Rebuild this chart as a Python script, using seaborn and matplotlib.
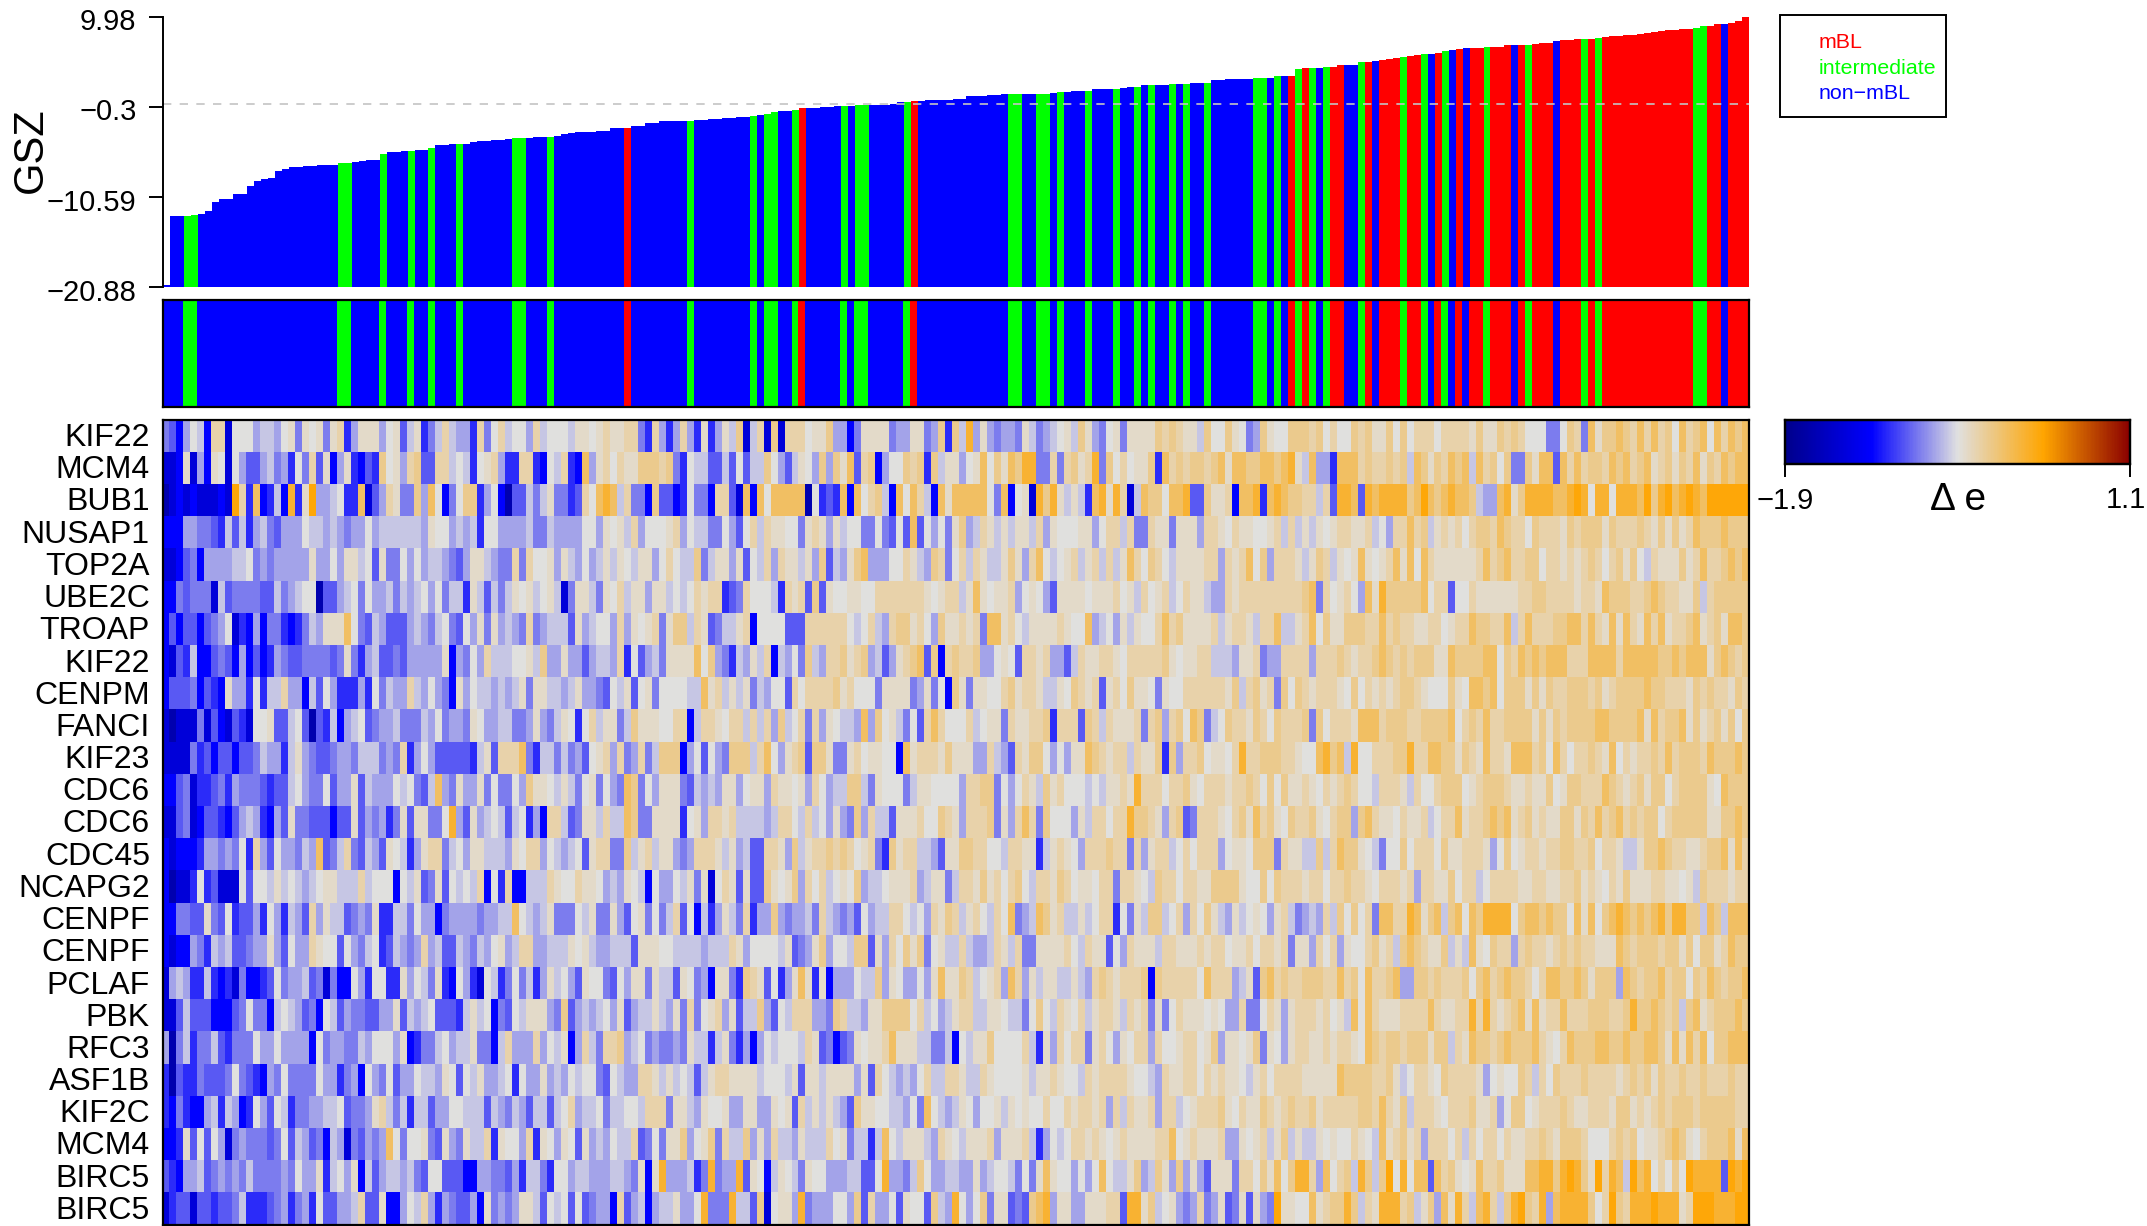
import numpy as np
import matplotlib
matplotlib.use('Agg')
import matplotlib.pyplot as plt
from matplotlib.colors import LinearSegmentedColormap, ListedColormap
from matplotlib.patches import Rectangle
from matplotlib.transforms import ScaledTranslation
import seaborn as sns

W, H = 2147, 1226
N_COL = 227

genes = ['KIF22', 'MCM4', 'BUB1', 'NUSAP1', 'TOP2A', 'UBE2C', 'TROAP', 'KIF22', 'CENPM', 'FANCI',
         'KIF23', 'CDC6', 'CDC6', 'CDC45', 'NCAPG2', 'CENPF', 'CENPF', 'PCLAF', 'PBK', 'RFC3',
         'ASF1B', 'KIF2C', 'MCM4', 'BIRC5', 'BIRC5']

gsz_ticks = [9.98, -0.3, -10.59, -20.88]

gsz = [-20.6, -12.72, -12.72, -12.72, -12.6, -12.5, -12.15, -11.1, -10.8, -10.8,
       -10.2, -10.2, -9.3, -8.8, -8.5, -8.36, -7.64, -7.37, -7.2, -7.2,
       -7.1, -7.0, -6.9, -6.9, -6.9, -6.7, -6.7, -6.6, -6.5, -6.35,
       -6.35, -5.66, -5.5, -5.4, -5.3, -5.3, -5.2, -5.2, -5.0, -4.64,
       -4.6, -4.5, -4.5, -4.5, -4.3, -4.2, -4.2, -4.1, -4.07, -3.95,
       -3.88, -3.88, -3.88, -3.73, -3.73, -3.73, -3.6, -3.4, -3.27, -3.2,
       -3.16, -3.16, -3.04, -3.04, -2.7, -2.7, -2.7, -2.5, -2.47, -2.17,
       -2.1, -1.9, -1.9, -1.9, -1.9, -1.9, -1.8, -1.8, -1.7, -1.7,
       -1.57, -1.57, -1.46, -1.46, -1.34, -1.23, -1.1, -0.89, -0.77, -0.77,
       -0.66, -0.43, -0.43, -0.43, -0.32, -0.32, -0.2, -0.2, -0.2, -0.09,
       -0.09, -0.09, -0.09, -0.09, 0.02, 0.25, 0.25, 0.37, 0.37, 0.48,
       0.48, 0.48, 0.48, 0.6, 0.6, 0.94, 0.94, 0.94, 1.05, 1.05,
       1.17, 1.17, 1.17, 1.17, 1.17, 1.17, 1.17, 1.28, 1.39, 1.39,
       1.51, 1.51, 1.51, 1.74, 1.74, 1.74, 1.74, 1.85, 1.96, 1.96,
       2.19, 2.19, 2.19, 2.19, 2.3, 2.3, 2.3, 2.42, 2.42, 2.42,
       2.76, 2.76, 2.88, 2.88, 2.88, 2.88, 2.99, 2.99, 2.99, 3.22,
       3.22, 3.22, 4.0, 4.13, 4.13, 4.13, 4.24, 4.24, 4.47, 4.47,
       4.47, 4.81, 4.81, 4.93, 5.04, 5.16, 5.27, 5.38, 5.5, 5.61,
       5.73, 5.73, 5.84, 6.07, 6.18, 6.3, 6.41, 6.41, 6.41, 6.52,
       6.52, 6.52, 6.75, 6.75, 6.75, 6.75, 6.87, 6.98, 6.98, 7.21,
       7.32, 7.32, 7.44, 7.44, 7.44, 7.55, 7.66, 7.78, 7.78, 7.89,
       7.89, 8.01, 8.12, 8.23, 8.35, 8.46, 8.46, 8.58, 8.58, 8.69,
       8.92, 8.92, 9.15, 9.15, 9.26, 9.49, 9.95]

# sample class, everything not listed is non-mBL
intermediate_idx = [3, 4, 25, 26, 31, 35, 38, 42, 50, 51, 55, 75, 84, 86, 87, 90, 97, 99, 100, 106,
                    121, 122, 125, 126, 128, 132, 136, 139, 141, 144, 146, 149, 156, 157, 159, 162,
                    164, 166, 171, 177, 180, 183, 189, 195, 203, 205, 219, 220]
mbl_idx = [66, 91, 107, 161, 163, 167, 168, 172, 174, 175, 176, 178, 179, 182, 185, 187, 188, 190,
           191, 192, 194, 196, 197, 198, 200, 201, 202, 204, 206, 207, 208, 209, 210, 211, 212, 213,
           214, 215, 216, 217, 218, 221, 222, 224, 225, 226]

# delta e for each shade seen in the heatmap
shade_values = {'n': -1.66, '0': -1.39, '1': -1.15, '2': -1.0, '3': -0.85, '4': -0.73, '5': -0.61,
                '6': -0.49, '7': -0.4, '8': -0.32, '9': -0.22, 'a': -0.12, 'b': 0.02, 'c': 0.18, 'd': 0.32}

# one row per gene, read column by column: four stretches of 58, 60, 60, 49 samples
row_00 = ['4315761990777566578487848925888578368246965529479677596777',
          '688789889942952595282586a0690a0999788a551488884558845a2a6c586899',
          '5455486456786a8547848888a9a9886a77a8745a877aaa9a7977a9a88a7a',
          '7999799998a88a9a9777447a94b8aaba9b9b9a7b9ab7b9bab']
row_01 = ['0018051870753356452749381582132a785 9a33996762789 52299217690',
          '21b5897988aaa9a4276633637366a7536875a5a8b39a1577a9a2a688578b9a9a',
          '7a8bacc44949a89c4a79788a2b9a9aa9ab8bbaabbabc86b5 52bbb9a99a9aa',
          '6ba8a9ba b6b9a7a44a8bb3b9b9aa9bab9ab89a8a9b8a9babbb']
row_02 = ['n010100010d92b1261c28d556 7 2 2 b 0 3 5 9 8 4 4 a 5 b 7 1 4 7 a a 2 5 7 1 n 3 3 6 4 6 8 4 4',
          '2397 bcb6 9 4 4 1 a 3 3 1 2 7 4 4 1 9 9 3 0 b 1 b 7 b b b b b n 7 2 3 2 b 1 b 7 9 a 6 1 b 7 b 9 6 1 b 8 b',
          '7 4 b 1 7 8 0 c a c 8 6 8 6 2 b c 8 c 9 0 6 b a a 7 b b c 3 3 a 8 8 9 1 b b c 2 b c b a a 9 9 6 9 3 c c b 3 c b c',
          'a b d b a b c b b a 6 5 5 b c 8 a c c c c b b c d c 7 c c 7 c c c b d a c d b c d c b d d d d d']
row_03 = ['11155443263 6 2 5 6 4 3 5 5 5 7 6 6 5 6 5 4 5 5 7 5 6 6 6 6 6 6 5 8 7 7 5 6 5 6 2 7 7 5 5 5 5 6 4 4 6 5 5 7 6 5',
          '557758786 9 5 7 7 7 8 9 5 7 6 6 4 4 7 5 3 7 9 6 9 8 8 7 7 4 8 9 8 5 8 6 7 7 4 4 7 4 3 7 3 b 3 7 5 7 4 8 a 5 6 9 9 9 8 7 6 8 6 6',
          '8 6 8 6 8 8 6 9 5 8 7 7 7 8 8 5 7 9 9 6 9 4 4 9 8 8 4 8 8 8 5 9 9 8 7 9 8 8 7 7 8 9 6 9 6 8 6 8 7 8 9 9 8 8 9 6 7 5 9 9',
          'b9 a 6 8 9 8 9 7 9 a a 9 b a 9 9 7 a 9 9 9 8 a 9 a a a 8 a 9 9 9 a 9 8 a 8 a 8 9 b a a a b a a a']
row_04 = ['00134 1 5 5 5 5 6 6 7 4 5 4 5 5 5 5 5 8 5 5 7 5 8 8 6 7 3 8 4 4 7 5 7 5 6 6 5 4 3 5 8 8 6 5 4 4 9 4 9 7 7 8 5 8 4 4 6 3',
          '6 5 7 5 6 8 6 8 7 6 8 8 5 7 9 7 6 6 a 4 6 8 8 5 8 3 7 6 9 5 9 8 8 6 8 5 a 3 6 5 8 a b 5 5 5 7 7 9 8 6 5 a 9 4 7 9 6 9 8',
          '6 6 8 a 8 5 9 b 7 6 7 8 9 6 8 9 6 9 6 8 b 9 7 a 9 7 6 8 8 8 8 9 9 5 9 8 9 b 7 a 5 9 9 9 8 6 8 a 9 6 8 7 8 b 8 7 8 9 b 8',
          'b 7 b 9 8 8 8 8 8 8 9 b 9 a b 9 9 a a 7 9 9 8 9 8 9 a 9 7 9 a 8 a 7 6 9 8 8 8 a 8 9 b 9 9 a b a b']
row_05 = ['11434440 6 3 4 4 4 4 3 3 6 4 5 6 7 7 n 3 3 5 6 7 4 7 5 5 6 4 6 5 6 7 5 7 4 6 6 2 8 6 3 6 4 6 8 7 8 6 7 8 6 0 5 4 8',
          '4 8 8 6 4 8 7 9 6 8 8 5 8 8 6 7 6 7 9 8 9 9 2 3 4 9 7 7 7 6 2 9 8 9 3 a 3 8 7 7 8 8 7 7 9 9 9 9 9 9 9 8 7 8 9 9 6 8 b 8',
          '7 8 8 9 5 7 8 7 5 3 8 8 8 8 7 8 8 8 9 7 8 6 9 7 8 9 6 7 9 8 8 6 5 5 9 8 9 9 9 9 9 9 9 9 9 a b 4 9 7 8 9 7 5 b 8 c a a a',
          'a a b 7 9 9 3 7 7 9 8 8 8 8 8 8 9 9 a a 9 9 9 9 8 9 9 8 b a a a 9 9 a b a 9 9 8 8 a 6 9 a a a a a']
row_06 = ['13 1 3 3 1 3 4 5 7 0 2 1 5 1 4 4 2 1 2 4 6 5 8 8 8 b 7 4 3 6 5 3 3 3 5 6 5 4 6 7 4 3 7 5 8 4 8 5 6 5 4 9 4 5 6 6',
          '3 8 5 6 7 7 5 9 5 8 7 8 9 4 8 a a 6 9 8 3 4 6 6 8 9 1 7 7 7 7 3 3 3 9 9 9 9 9 9 7 6 7 9 6 5 9 a a 8 9 7 5 a 8 8 9 8 9 4',
          'b b 8 9 7 6 8 8 8 8 9 8 7 7 b 5 6 7 5 8 6 8 7 7 9 b 9 a 8 8 8 8 9 6 8 9 9 8 6 9 9 b 6 6 8 9 b 7 a 8 8 a a a 9 9 b 9 a 9',
          '9 8 8 9 9 7 8 9 9 b a a 9 9 b 6 9 b 9 9 9 a a b b 9 b 9 8 b 8 b 9 8 b 9 b 8 9 9 a b 8 9 a 8 b b a']
row_07 = ['1 0 3 2 6 1 1 3 4 3 1 5 1 3 1 2 5 4 3 3 4 4 4 4 3 4 8 4 2 5 6 3 3 4 3 5 5 5 5 5 8 1 5 4 7 5 9 6 6 6 7 7 8 6 a 5 5 8',
          '5 5 3 5 6 6 5 9 2 7 3 5 6 4 8 8 8 8 b 7 a 5 4 2 6 5 8 6 9 1 6 5 7 4 a 6 5 9 9 a 8 9 a 5 6 3 5 8 9 a b 3 a 1 9 a 9 9 a 5',
          '5 7 8 7 3 9 9 8 9 5 5 3 6 9 8 8 9 9 8 7 9 9 9 9 9 a 8 7 8 8 9 9 6 6 6 5 8 8 9 4 5 5 9 9 9 9 5 9 9 9 a 9 8 9 9 a b a 9 a',
          '9 a a a 8 8 b a a a a b b 7 a 9 b a b a b b b 9 9 9 b b b b 9 b b b b b a a b a b b b 8 a b a 9 a']
row_08 = ['1 3 3 3 4 1 3 2 1 8 5 5 2 7 2 6 6 9 5 5 1 6 3 7 5 2 2 2 5 2 7 4 6 5 5 9 6 5 7 5 4 1 8 5 7 6 6 5 6 5 6 8 4 8 8 6 6 5',
          '6 8 5 5 4 3 7 6 8 3 7 8 4 7 7 7 7 6 6 b 8 9 6 8 6 8 4 6 5 7 7 3 9 7 9 9 9 9 a 8 9 7 7 7 4 8 8 8 8 4 5 8 4 7 1 a 8 4 8 8',
          '7 7 9 a 8 9 9 8 6 6 8 7 a 9 8 9 3 8 9 7 a 8 8 7 4 8 7 7 9 9 9 9 9 9 8 a 6 9 a 8 9 4 a 7 a 9 8 9 9 9 8 7 a 7 9 8 9 8 9 a',
          'a 9 8 7 7 7 a 8 7 b b a b 7 a a a 8 a 8 a 9 9 a a a 9 a 8 9 a a a a b a a 9 9 9 8 a 9 a 9 9 8 a 9']
row_09 = ['0 n 0 0 0 4 0 3 1 0 3 2 0 7 7 8 3 3 6 7 3 n 3 2 6 1 5 6 7 3 4 5 5 6 4 4 4 6 5 7 4 5 5 4 8 7 5 5 6 6 4 4 5 8 5 4 6 8',
          '7 2 7 9 6 8 8 4 6 a 8 8 8 7 7 9 9 1 6 9 9 8 7 9 9 6 9 6 9 5 a 6 7 9 4 9 5 8 7 6 6 5 b 5 a 7 8 6 4 7 3 9 b 9 7 7 7 9 6 7',
          '8 8 4 9 8 8 9 9 a 2 9 9 9 3 a 9 6 9 8 8 8 9 4 9 a 5 9 a 7 b a 4 6 7 a 9 9 8 a 9 7 a 9 9 9 a 4 a 7 9 9 9 8 b b b 9 a a a',
          '9 9 a a a a b 7 9 a 9 b 9 9 a a a a 8 a 8 a 9 a a a a b b a a a a b 8 b 9 a a b 8 a 8 9 a 8 a 7 a']
row_10 = ['0 0 0 0 4 2 3 1 3 3 1 3 3 4 6 5 5 2 6 8 5 4 3 3 4 5 5 4 6 6 6 4 5 4 9 2 5 7 5 3 3 3 3 3 2 6 8 3 9 9 9 b 4 2 6 6 4 6',
          '4 5 3 7 8 9 5 9 4 5 9 4 6 a a a 1 5 7 3 7 5 4 a a a 6 9 b 7 5 8 9 a 3 a a 8 4 4 8 9 7 8 8 7 7 1 b 8 9 9 9 8 a 8 8 8 5 5',
          '9 6 5 3 9 8 a a 7 5 7 5 8 8 b a 9 8 9 9 6 9 8 8 a 2 a 5 9 9 a 7 8 8 7 9 c 9 9 a a a 9 9 8 7 7 b c a b 6 c 7 7 9 9 9 a a',
          'c 9 9 b b a a 8 a 9 8 b 9 9 8 b b b 9 a 7 b 9 7 9 9 a 9 8 b 7 9 8 9 9 a 9 b 9 a a a 9 b a a a b a']
row_11 = ['1 1 3 4 0 2 2 3 4 2 5 4 4 4 3 2 3 3 6 7 5 4 4 7 3 5 5 8 3 6 5 5 5 7 6 7 4 3 6 b 5 4 8 5 5 8 4 7 4 4 7 5 a 8 8 7 6 8',
          '6 4 7 8 4 7 5 4 b a 4 7 5 8 8 8 4 3 6 5 6 5 8 8 5 7 8 8 5 9 8 8 7 8 5 9 7 5 6 6 a a 6 4 8 7 7 7 4 6 8 8 7 7 7 7 5 9 9 a',
          'a 4 7 5 7 9 8 6 a 8 9 7 7 7 6 7 6 8 8 9 8 c 9 9 9 7 9 9 a 8 7 9 9 9 8 9 9 a 9 7 a 7 a 8 8 9 8 7 9 8 9 a 9 7 7 6 9 9 9 8',
          '6 9 7 7 9 a a a 7 8 9 a a a 9 8 8 9 8 8 a 7 8 a a 9 9 9 b a 9 8 9 a 8 a a 7 9 a a a a 8 7 b a a a']
row_12 = ['0 0 3 4 0 1 3 3 2 1 3 5 6 5 2 1 5 3 8 4 4 3 3 3 1 3 3 8 3 5 4 5 2 4 8 3 8 8 4 4 7 c 5 3 8 5 6 7 6 3 6 7 2 5 1 9 9 6',
          '3 4 8 8 6 9 6 6 b a 4 4 8 8 8 8 2 7 8 5 9 9 8 9 6 6 6 6 5 6 9 9 7 6 9 6 7 5 8 5 4 a 5 9 6 6 3 8 8 8 9 7 7 a 9 8 5 9 9 9',
          'a 4 8 5 9 b 9 4 a 7 7 7 5 8 6 9 9 7 9 9 c a a 9 8 5 9 a 3 4 9 9 9 8 7 9 a 8 b 9 a 8 7 a 9 9 a 8 7 9 a a 5 a b 9 8 8 7 9',
          '8 8 9 6 7 9 9 b 8 9 9 a b a b 8 9 a 8 9 8 8 a a 8 a 9 b 9 a b 9 a 9 a a 7 9 a a a a a 8 8 a a b a']
row_13 = ['1 0 1 1 1 2 5 5 4 5 4 7 2 9 5 3 7 5 5 4 6 5 b 3 4 6 9 4 3 6 5 3 8 7 6 2 5 8 9 9 4 6 7 5 8 8 6 6 6 5 8 7 9 9 5 7 6 5',
          '6 7 3 8 9 9 4 4 a 6 8 9 6 8 8 5 4 5 9 9 9 8 6 8 5 6 3 3 9 9 8 5 a 6 8 9 9 a 9 a 9 7 8 9 4 2 a 8 9 9 6 6 5 3 8 8 a a 9 9',
          '7 7 6 9 9 8 8 2 6 8 9 8 7 5 9 9 9 a 9 9 4 9 5 8 9 9 6 7 9 7 9 9 9 5 7 8 8 7 a a a 4 9 8 8 6 6 a 6 9 b a a 8 7 6 4 7 7 a',
          '7 9 9 9 7 a 8 8 9 9 9 8 5 7 a 7 8 9 9 8 9 9 a a 9 9 a 7 9 9 8 6 6 8 a a b a 9 9 8 8 9 a a b 8 b 9']
row_14 = ['1 n 0 0 2 7 2 3 0 0 0 7 3 7 7 6 8 6 7 6 5 6 7 8 8 6 6 6 9 6 7 7 7 1 7 6 8 3 4 8 3 7 6 7 6 9 1 7 2 9 1 1 6 6 6 9 8 7',
          '7 9 8 8 7 5 6 5 8 7 6 1 7 5 5 7 6 8 4 8 0 7 9 8 3 8 3 3 a 8 7 8 a 5 9 7 9 6 7 8 7 a 5 6 6 7 8 8 8 9 5 6 8 8 4 6 9 9 8 a',
          '8 9 7 9 a 7 6 9 9 8 a 9 7 8 8 7 9 9 4 9 9 8 7 6 a 9 9 7 9 9 8 8 a a a a 8 7 7 a 7 a 9 9 9 8 9 9 7 9 9 a 9 9 8 7 9 9 9 8',
          '9 5 9 9 8 8 a 7 9 9 6 7 9 9 9 9 8 8 9 9 8 8 9 9 a 8 9 8 7 9 8 a 8 8 8 9 9 8 8 7 8 6 a 9 9 9 8 9 9']
row_15 = ['1 1 4 4 3 3 8 4 3 7 2 3 3 5 2 7 5 2 6 5 3 9 5 8 6 6 3 4 5 4 8 2 2 6 6 4 7 5 5 1 4 5 5 5 5 4 5 5 6 6 b 7 6 5 6 8 4 4',
          '4 7 6 8 4 4 8 5 3 7 8 4 7 4 6 9 3 7 1 6 2 5 8 6 4 9 2 5 5 a 5 4 5 5 6 4 9 6 5 4 5 3 7 5 6 6 9 9 7 6 7 5 9 8 a 9 6 8 9 7',
          '6 9 7 b 4 5 6 b a 8 9 6 6 8 6 7 9 9 2 7 4 8 6 a a 6 7 9 5 9 7 a 8 6 5 8 6 7 8 7 5 8 9 6 4 5 6 5 9 6 a 7 a 7 9 4 b b 9 9',
          'c b 8 a b 6 a b 7 b a c c c c 7 a b b a b a a 7 b 8 b 7 a b c b a b a b c a c c a a 6 b a 6 b b b']
row_16 = ['1 0 1 1 5 4 2 6 5 6 3 3 4 5 5 8 5 3 7 5 5 9 8 7 7 3 7 5 4 6 7 2 3 6 5 4 5 9 5 6 3 3 6 5 4 6 5 7 8 5 6 9 9 5 5 6 6 6',
          '8 7 8 6 5 5 6 6 6 3 8 8 8 7 7 6 6 6 6 5 6 6 6 9 8 5 7 7 7 7 6 8 3 4 5 8 a 5 7 7 6 a a 3 8 5 9 7 a 8 a 4 7 8 6 6 9 6 5 5',
          '6 9 8 6 9 4 4 8 8 8 8 9 7 6 9 8 8 3 7 5 9 8 8 8 6 9 9 8 8 8 9 8 9 9 7 8 8 9 7 9 9 8 9 4 8 8 5 9 7 9 5 8 7 7 9 a 8 9 6 a',
          'b a 9 8 8 a 6 8 6 b 8 7 a 9 9 5 9 a 9 9 8 9 a 9 a 9 9 8 8 8 b a 9 a a a 9 a a 8 a 7 a a 8 9 b a a']
row_17 = ['0 5 6 5 2 2 6 2 1 2 0 4 1 1 2 3 7 4 5 5 6 3 4 0 4 1 1 7 5 2 7 7 2 2 8 5 7 6 4 8 2 1 7 5 2 0 7 6 2 4 7 4 6 2 5 8 6 7',
          '5 3 8 7 7 4 3 7 5 8 8 4 8 6 6 3 8 7 4 5 1 8 8 4 2 a 9 8 3 7 2 5 8 b 8 2 8 1 5 5 5 7 6 6 a 5 8 7 5 5 7 5 8 b 8 8 a 9 6 7',
          '8 9 5 b 9 5 8 6 8 8 6 6 8 6 5 9 a 9 8 9 9 9 a 1 a 9 9 9 9 9 7 b 9 9 9 5 6 8 3 a b 9 a 9 9 a a a 9 9 b 9 a 7 b 9 9 a b 5',
          '5 a a 9 a 9 9 9 a 7 a b 9 a b a a 9 7 9 b b a a b a 8 a a a 5 b a 9 a a b 9 a a 7 a 9 b a 9 a a b']
row_18 = ['0 0 3 6 3 3 3 1 1 1 3 4 7 4 4 1 6 7 6 5 3 4 1 7 6 3 5 4 4 3 3 5 5 8 3 6 5 6 7 3 3 3 2 6 8 6 7 1 4 3 7 6 8 8 8 5 4 a',
          '3 5 6 5 6 7 5 8 3 5 6 6 8 6 5 8 4 9 4 7 8 9 5 8 3 6 6 a 5 3 7 6 9 9 9 5 5 4 a 9 6 6 5 8 8 a a a a 7 9 6 7 5 6 8 9 9 6 6',
          '8 8 7 6 6 4 7 a 7 6 9 8 7 9 6 8 9 9 8 6 9 8 9 4 8 4 7 9 8 8 8 7 8 7 5 5 9 4 4 7 9 8 5 8 9 9 9 8 9 7 8 6 b 7 b 9 8 8 8 9',
          '9 9 9 b 9 8 8 9 9 c 9 c 9 8 9 a b 8 b 8 9 9 b 9 9 9 a a a 9 9 a c a a b a 9 a 6 a b 8 9 a a a b a']
row_19 = ['5 n 4 6 2 4 4 6 3 2 4 4 4 7 5 5 7 5 5 5 5 1 7 4 5 5 4 4 6 5 7 7 7 5 8 1 2 4 4 6 7 5 6 6 8 4 4 1 6 9 5 5 5 9 5 7 6 8',
          '1 5 9 6 4 9 9 a 5 6 7 4 5 4 4 5 4 8 6 6 2 6 8 4 2 5 1 5 7 6 7 7 7 6 9 8 3 4 1 3 4 8 7 8 8 9 b 8 8 8 6 6 4 4 6 1 7 6 8 8',
          'a 7 7 7 7 9 6 2 8 5 9 7 9 9 4 8 9 7 5 8 7 9 9 5 9 7 7 8 9 9 7 8 a 5 8 8 7 8 a 4 8 7 5 8 9 9 8 8 9 8 9 9 8 7 b a 9 a a 9',
          'a a a 8 a a 6 9 8 b a a 9 a b a a a b 9 8 7 9 b a a a b b a a b a a b b a 8 b 8 b 9 b 7 a a b b b']
row_20 = ['2 n 3 2 2 4 3 3 3 4 7 4 3 2 1 5 4 7 4 4 4 4 7 5 5 2 4 5 1 7 5 4 7 3 5 5 7 6 6 5 8 7 3 7 6 8 5 5 6 7 2 7 5 5 8 5 6 5',
          '7 6 7 7 4 3 7 6 5 5 9 9 8 6 8 6 7 6 3 6 8 9 9 8 8 8 8 6 7 7 7 6 8 3 8 8 6 8 8 8 8 5 8 3 9 7 6 5 6 5 7 9 6 6 9 9 8 6 6 9',
          '8 7 7 7 7 8 6 8 8 9 8 7 7 6 9 8 9 9 9 9 8 7 7 6 5 9 8 8 9 9 7 9 8 9 8 8 7 6 8 9 7 9 9 9 9 8 8 8 8 8 b a a a a 9 9 a 8 6',
          '7 9 9 8 7 a 9 9 9 9 8 5 7 8 7 7 a 9 6 9 7 a 9 9 9 a 9 9 9 9 8 9 a 9 a 8 a 9 9 a 9 9 a 9 9 9 a 9 9']
row_21 = ['2 1 4 2 1 1 5 6 2 6 5 1 2 7 5 3 7 6 2 4 4 5 5 6 6 7 3 4 4 5 8 9 6 4 6 2 6 6 3 5 5 7 7 6 6 6 3 6 5 4 6 5 3 6 6 3 6 7',
          '9 5 6 6 7 4 6 6 7 7 6 9 9 9 4 8 8 6 5 8 7 7 8 5 5 8 8 5 5 8 7 8 3 9 6 8 6 8 6 5 3 a 8 8 7 7 6 6 5 7 4 b 7 6 5 6 8 7 5 7',
          '7 8 6 8 7 8 7 7 9 7 7 9 8 9 9 8 9 5 9 6 9 8 8 9 5 9 9 6 7 8 9 9 9 a 8 7 9 8 8 a 9 8 9 a 9 9 a 8 9 9 9 9 9 a a 9 b 9 8 a',
          '6 9 9 9 8 7 9 9 9 a 8 8 9 5 7 a a 7 8 9 9 9 a 9 8 8 9 9 9 8 a a 8 9 8 9 a 9 a a a 9 a a a a a 9 9']
row_22 = ['1 1 2 8 3 7 3 7 5 0 4 5 4 4 4 3 4 7 3 6 5 3 4 1 6 5 0 4 3 5 4 5 b 7 4 7 7 8 4 3 8 5 4 8 6 6 9 2 8 7 7 5 9 2 8 7 5 8',
          '7 3 8 5 6 5 7 6 6 9 3 4 7 4 8 8 a 5 7 8 a 4 9 6 6 a 5 8 5 9 6 6 5 8 6 6 6 9 7 8 4 6 6 2 6 b 7 6 8 8 8 6 5 9 8 7 6 8 8 8',
          '9 5 8 8 8 9 6 2 5 7 6 7 9 9 8 9 8 7 8 9 8 8 8 8 9 9 b 7 8 9 8 8 8 9 5 5 8 7 8 9 6 8 a 6 8 6 6 8 7 8 7 7 9 8 7 6 b 8 9 a',
          '8 9 5 9 9 9 7 9 6 9 7 9 9 7 9 8 8 9 9 a 9 8 a a a 9 7 7 7 9 a 9 a 7 8 8 9 a b a 8 7 9 a a a b 8 b']
row_23 = ['3 2 1 5 5 6 3 4 5 4 5 4 6 4 4 4 4 5 4 7 5 5 8 2 6 7 5 8 1 6 3 5 6 6 5 6 4 3 7 7 3 3 3 1 1 5 5 4 4 3 5 2 6 6 4 2 7 7',
          '5 6 6 5 5 5 6 6 5 4 8 1 8 c 5 5 5 6 2 4 c 4 5 5 c 3 8 7 1 6 8 7 6 4 8 7 7 5 5 5 6 6 3 3 7 c 5 5 4 6 a 7 5 5 6 6 5 5 8 5',
          '6 7 7 6 4 7 4 8 b 8 7 7 5 7 5 7 b 7 6 6 8 a 5 6 a 8 5 a 5 8 5 3 8 8 8 4 9 9 7 a 8 b 7 a c c 9 5 b 7 9 a 6 c a 6 a d 7 c',
          '7 b b 3 b 9 a 8 7 8 b 9 9 a 8 8 8 b b c c a c d c a 8 d 9 c b 6 d b c 7 9 7 a 7 d c c c c 3 d c d']
row_24 = ['0 2 3 3 0 3 3 2 3 3 4 6 2 2 2 3 4 5 2 4 5 2 7 3 3 5 5 6 9 3 3 8 1 1 5 7 6 9 5 2 5 4 3 3 5 1 8 4 5 4 5 8 8 6 3 7 6 7',
          '3 7 3 4 5 5 1 9 3 5 6 1 5 6 6 8 5 5 7 c 4 4 4 c 6 6 3 a 0 7 8 8 5 c 4 5 5 5 7 7 5 a 3 9 5 5 7 3 8 7 7 3 a 6 5 c 7 5 7 a',
          '4 8 8 3 4 3 a b c 5 8 8 5 5 8 8 8 9 9 3 c c 8 a 6 7 8 5 4 5 9 4 5 8 3 4 8 3 8 5 4 d 8 8 7 7 b 8 9 a a c a 6 9 8 c c c 9',
          'a 6 8 a 5 b 8 c 9 6 b c 9 6 a c d a 9 c 5 b c c c c a 7 9 d a 9 c c c d c c c 8 9 d d d c c c d d']

rows = [row_00, row_01, row_02, row_03, row_04, row_05, row_06, row_07, row_08, row_09, row_10, row_11, row_12,
        row_13, row_14, row_15, row_16, row_17, row_18, row_19, row_20, row_21, row_22, row_23, row_24]
stretch = [58, 60, 60, 49]


def fit(s, n):
    # keep each stretch under its own zoom window when my count is off by a cell or two
    s = s.replace(' ', '')
    return (s + s[-1] * n)[:n]


delta_e = np.array([[shade_values[c] for c in ''.join(fit(s, n) for s, n in zip(r, stretch))] for r in rows])


def box(x0, y0, x1, y1):
    return [x0 / W, 1 - y1 / H, (x1 - x0) / W, (y1 - y0) / H]


sns.set_theme(style='white')
plt.rcParams['font.family'] = ['Liberation Sans', 'DejaVu Sans']
plt.rcParams['axes.unicode_minus'] = True

fig = plt.figure(figsize=(W / 100, H / 100), dpi=100)
label_drop = ScaledTranslation(0, -2.5 / 100, fig.dpi_scale_trans)

cls = np.zeros(N_COL, dtype=int)
cls[intermediate_idx] = 1
cls[mbl_idx] = 2
class_colors = ['#0000ff', '#00ff00', '#ff0000']

# GSZ bars
ax_bar = fig.add_axes(box(163, 16.7, 1749, 287.3))
ax_bar.bar(np.arange(N_COL) + 0.5, np.array(gsz) + 20.88, bottom=-20.88, width=1.0,
           color=[class_colors[c] for c in cls], linewidth=0)
ax_bar.axhline(0, color='#c4c4c4', lw=1.2, ls=(0, (5, 5)))
ax_bar.set_xlim(0, N_COL)
ax_bar.set_ylim(-20.88, 9.98)
ax_bar.set_xticks([])
ax_bar.set_yticks(gsz_ticks)
ax_bar.set_yticklabels(['9.98', '\u22120.3', '\u221210.59', '\u221220.88'], fontsize=21)
ax_bar.tick_params(axis='y', left=True, length=10, width=1.4, color='black', pad=9, labelcolor='black')
for lbl in ax_bar.get_yticklabels():
    lbl.set_transform(lbl.get_transform() + label_drop)
for name in ['top', 'right', 'bottom']:
    ax_bar.spines[name].set_visible(False)
ax_bar.spines['left'].set_color('black')
ax_bar.spines['left'].set_linewidth(1.4)
fig.text(31 / W, 1 - 150 / H, 'GSZ', rotation=90, fontsize=30, ha='center', va='center', color='black')

# class strip
ax_strip = fig.add_axes(box(162.5, 300, 1749, 406.5))
sns.heatmap(cls[None, :], ax=ax_strip, cmap=ListedColormap(class_colors), vmin=0, vmax=2, cbar=False,
            xticklabels=False, yticklabels=False)

# heatmap and colour bar
ramp = LinearSegmentedColormap.from_list('ramp', ['#00008b', '#0000ff', '#e0e0e0', '#ffa500', '#8b0000'])
ax_heat = fig.add_axes(box(162.5, 419.5, 1749, 1224.5))
ax_cbar = fig.add_axes(box(1785, 419.5, 2130, 463.5))
sns.heatmap(delta_e, ax=ax_heat, cmap=ramp, vmin=-1.9, vmax=1.1, xticklabels=False, yticklabels=genes,
            cbar_ax=ax_cbar, cbar_kws={'orientation': 'horizontal'})
ax_heat.tick_params(axis='y', length=0, pad=9, labelsize=23, labelcolor='black', rotation=0)
for lbl in ax_heat.get_yticklabels():
    lbl.set_transform(lbl.get_transform() + label_drop)

for ax in [ax_strip, ax_heat, ax_cbar]:
    for sp in ax.spines.values():
        sp.set_visible(True)
        sp.set_color('black')
        sp.set_linewidth(1.6)

ax_cbar.set_xticks([-1.9, 1.1])
ax_cbar.set_xticklabels(['\u22121.9', ''], fontsize=21, color='black')
ax_cbar.tick_params(axis='x', bottom=True, length=9, width=1.4, color='black', pad=8)
fig.text(2146 / W, 1 - 500 / H, '1.1', fontsize=21, ha='right', va='center', color='black')
fig.text(1958 / W, 1 - 500 / H, '\u0394 e', fontsize=28, ha='center', va='center', color='black')

# legend box
fig.add_artist(Rectangle((1780 / W, 1 - 116.5 / H), 165.5 / W, 101.5 / H, transform=fig.transFigure,
                         fill=False, edgecolor='black', linewidth=1.4))
for label, col, y in zip(['mBL', 'intermediate', 'non\u2212mBL'], ['#ff0000', '#00ff00', '#0000ff'], [42.5, 68.5, 93.5]):
    fig.text(1819 / W, 1 - y / H, label, color=col, fontsize=15.4, ha='left', va='center')

fig.savefig('out.png', dpi=100)
